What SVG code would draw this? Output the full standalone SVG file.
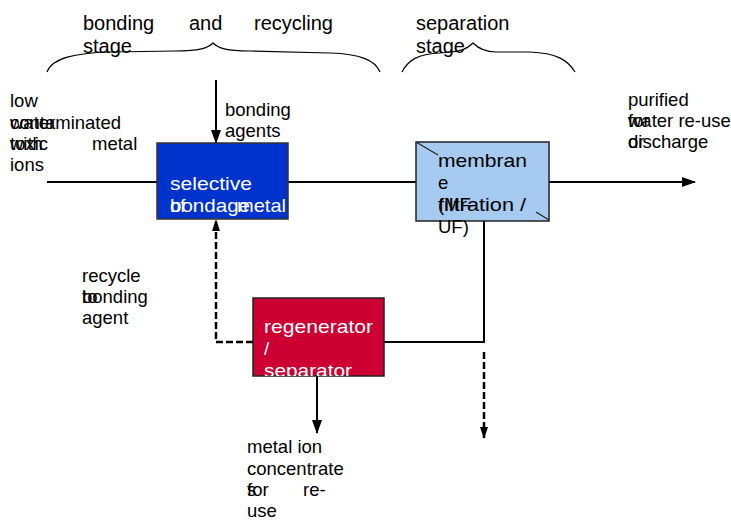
<svg xmlns="http://www.w3.org/2000/svg" width="731" height="522" viewBox="0 0 731 522">
<style>
text{font-family:"Liberation Sans",Arial,sans-serif;font-size:18.5px;fill:#000}
.big{font-size:20px}
.w{fill:#fff}
.ln{stroke:#000;stroke-width:2;fill:none}
.ds{stroke:#000;stroke-width:2.5;fill:none;stroke-dasharray:7,3}
.br{stroke:#000;stroke-width:1.2;fill:none}
</style>
<defs>
<marker id="ah" markerWidth="14" markerHeight="10" refX="13" refY="5" orient="auto" markerUnits="userSpaceOnUse">
<path d="M0,0 L14,5 L0,10 Z" fill="#000"/>
</marker>
<marker id="ahs" markerWidth="12" markerHeight="8" refX="11" refY="4" orient="auto" markerUnits="userSpaceOnUse">
<path d="M0,0 L12,4 L0,8 Z" fill="#000"/>
</marker>
<clipPath id="regclip"><rect x="253" y="298" width="131" height="78"/></clipPath>
</defs>
<rect width="731" height="522" fill="#fff"/>

<g id="labels-top">
<text class="big" x="83" y="30">bonding</text>
<text class="big" x="189" y="30">and</text>
<text class="big" x="254" y="30">recycling</text>
<text class="big" x="83" y="53">stage</text>
<text class="big" x="416" y="30">separation</text>
<text class="big" x="416" y="53">stage</text>
<path class="br" d="M47,72 C52,58 75,53 110,52 L175,51 C200,51 208,48 213,43 C218,48 226,51 250,51 L330,53 C360,54 375,60 380,72"/>
<path class="br" d="M402,72 C408,60 418,54 440,53 L450,52 C462,52 468,48 473,43 C478,48 484,52 496,52 L530,52 C556,53 568,60 575,72"/>
</g>

<g id="connectors">
<path class="ln" d="M47,182 L157,182"/>
<path class="ln" d="M288,182 L416,182"/>
<path class="ln" d="M549,182 L695,182" marker-end="url(#ah)"/>
<path class="ln" d="M216,80 L216,143" marker-end="url(#ah)"/>
<path class="ln" d="M484,221 L484,342 L384,342"/>
<path class="ds" d="M253,342 L216,342 L216,220" marker-end="url(#ahs)"/>
<path class="ln" stroke-width="3" d="M317,376 L317,433" marker-end="url(#ah)"/>
<path class="ds" d="M484,352 L484,438" marker-end="url(#ahs)"/>
</g>

<g id="input-label">
<text x="10" y="107">low</text>
<text x="10" y="129">water</text>
<text x="10" y="129">contaminated</text>
<text x="10" y="150">with</text>
<text x="10" y="150">toxic</text>
<text x="92" y="150">metal</text>
<text x="10" y="171">ions</text>
</g>

<g id="bonding-agents-label">
<text x="225" y="116">bonding</text>
<text x="225" y="137">agents</text>
</g>

<g id="selective-bondage">
<rect x="157" y="143" width="131" height="76" fill="#0033CC" stroke="#333" stroke-width="1.5"/>
<text class="w" x="170" y="190" textLength="82" lengthAdjust="spacingAndGlyphs">selective</text>
<text class="w" x="170" y="212">of</text>
<text class="w" x="170" y="212" textLength="80" lengthAdjust="spacingAndGlyphs">bondage</text>
<text class="w" x="237" y="212" textLength="49" lengthAdjust="spacingAndGlyphs">metal</text>
</g>

<g id="membrane">
<rect x="416" y="142" width="133" height="79" fill="#A6CAF0" stroke="#222" stroke-width="1.5"/>
<path d="M416,142 L438,155 M536,212 L549,220" stroke="#222" stroke-width="1.2"/>
<text x="438" y="167" textLength="89" lengthAdjust="spacingAndGlyphs">membran</text>
<text x="438" y="189">e</text>
<text x="438" y="211">(MF</text>
<text x="438" y="211" textLength="88" lengthAdjust="spacingAndGlyphs">filtration /</text>
<text x="438" y="233">UF)</text>
</g>

<g id="output-label">
<text x="628" y="106">purified</text>
<text x="628" y="127">for</text>
<text x="628" y="127">water re-use</text>
<text x="628" y="148">or</text>
<text x="628" y="148">discharge</text>
</g>

<g id="regenerator">
<rect x="253" y="298" width="131" height="78" fill="#CC0033" stroke="#222" stroke-width="1.5"/>
<g clip-path="url(#regclip)">
<text class="w" x="264" y="333" textLength="109" lengthAdjust="spacingAndGlyphs">regenerator</text>
<text class="w" x="264" y="355">/</text>
<text class="w" x="264" y="377" textLength="88" lengthAdjust="spacingAndGlyphs">separator</text>
</g>
</g>

<g id="recycle-label">
<text x="82" y="282">recycle</text>
<text x="82" y="303">to</text>
<text x="82" y="303">bonding</text>
<text x="82" y="324">agent</text>
</g>

<g id="concentrate-label">
<text x="247" y="453">metal ion</text>
<text x="247" y="475">concentrate</text>
<text x="247" y="496">s</text>
<text x="247" y="496">for</text>
<text x="303" y="496">re-</text>
<text x="247" y="517">use</text>
</g>
</svg>
